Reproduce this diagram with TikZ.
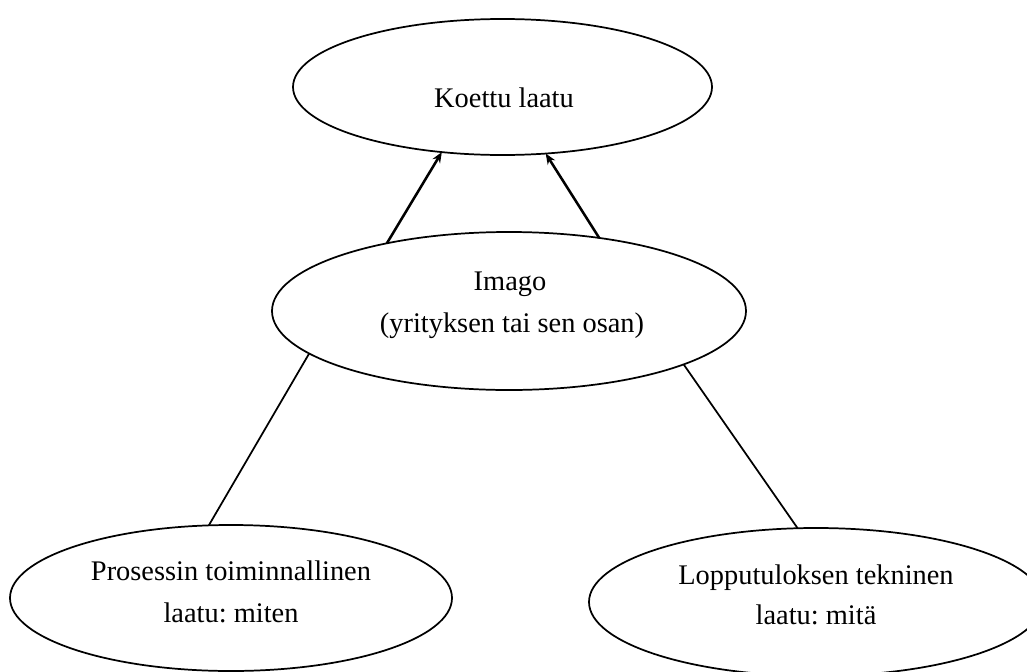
\documentclass[tikz,border=0pt]{standalone}
\usepackage{fontspec}
\setmainfont{Liberation Serif}
\frenchspacing
\usetikzlibrary{arrows.meta,shapes.geometric}
\tikzset{
  oval/.style={ellipse,draw=black,line width=1.3pt,inner sep=0pt,outer sep=0pt},
  lbl/.style={anchor=base,inner sep=0pt,font=\fontsize{21.3}{31.5}\selectfont},
  arr/.style={line width=1.9pt,-{Stealth[length=8pt,width=6.5pt]}},
  link/.style={line width=1.3pt}
}
\begin{document}
\begin{tikzpicture}[x=0.75pt,y=-0.75pt]
\useasboundingbox (0,0) rectangle (1027,671);
% ellipses
\node[oval,minimum width=314.25pt,minimum height=102pt] (top) at (502.5,87) {};
\node[oval,minimum width=355.5pt,minimum height=118.5pt] (mid) at (509,311) {};
\node[oval,minimum width=331.5pt,minimum height=109.5pt] (bl) at (231,598) {};
\node[oval,minimum width=340.5pt,minimum height=111pt] (br) at (816,602) {};
% texts
\node[lbl] (t1) at (504,107) {Koettu laatu};
\node[lbl] (m1) at (510,290) {Imago};
\node[lbl] (m2) at (512,332) {(yrityksen tai sen osan)};
\node[lbl] (b1) at (231,580) {Prosessin toiminnallinen};
\node[lbl] (b2) at (231,622) {laatu:\ miten};
\node[lbl] (r1) at (816,584) {Lopputuloksen tekninen};
\node[lbl] (r2) at (816,624) {laatu:\ mitä};
% connectors
\draw[arr] (mid.151.4) -- (top.227);
\draw[arr] (mid.39.1) -- (top.303.4);
\draw[link] (mid.192.6) -- (bl.107.2);
\draw[link] (mid.343.7) -- (br.104.6);
\end{tikzpicture}
\end{document}
